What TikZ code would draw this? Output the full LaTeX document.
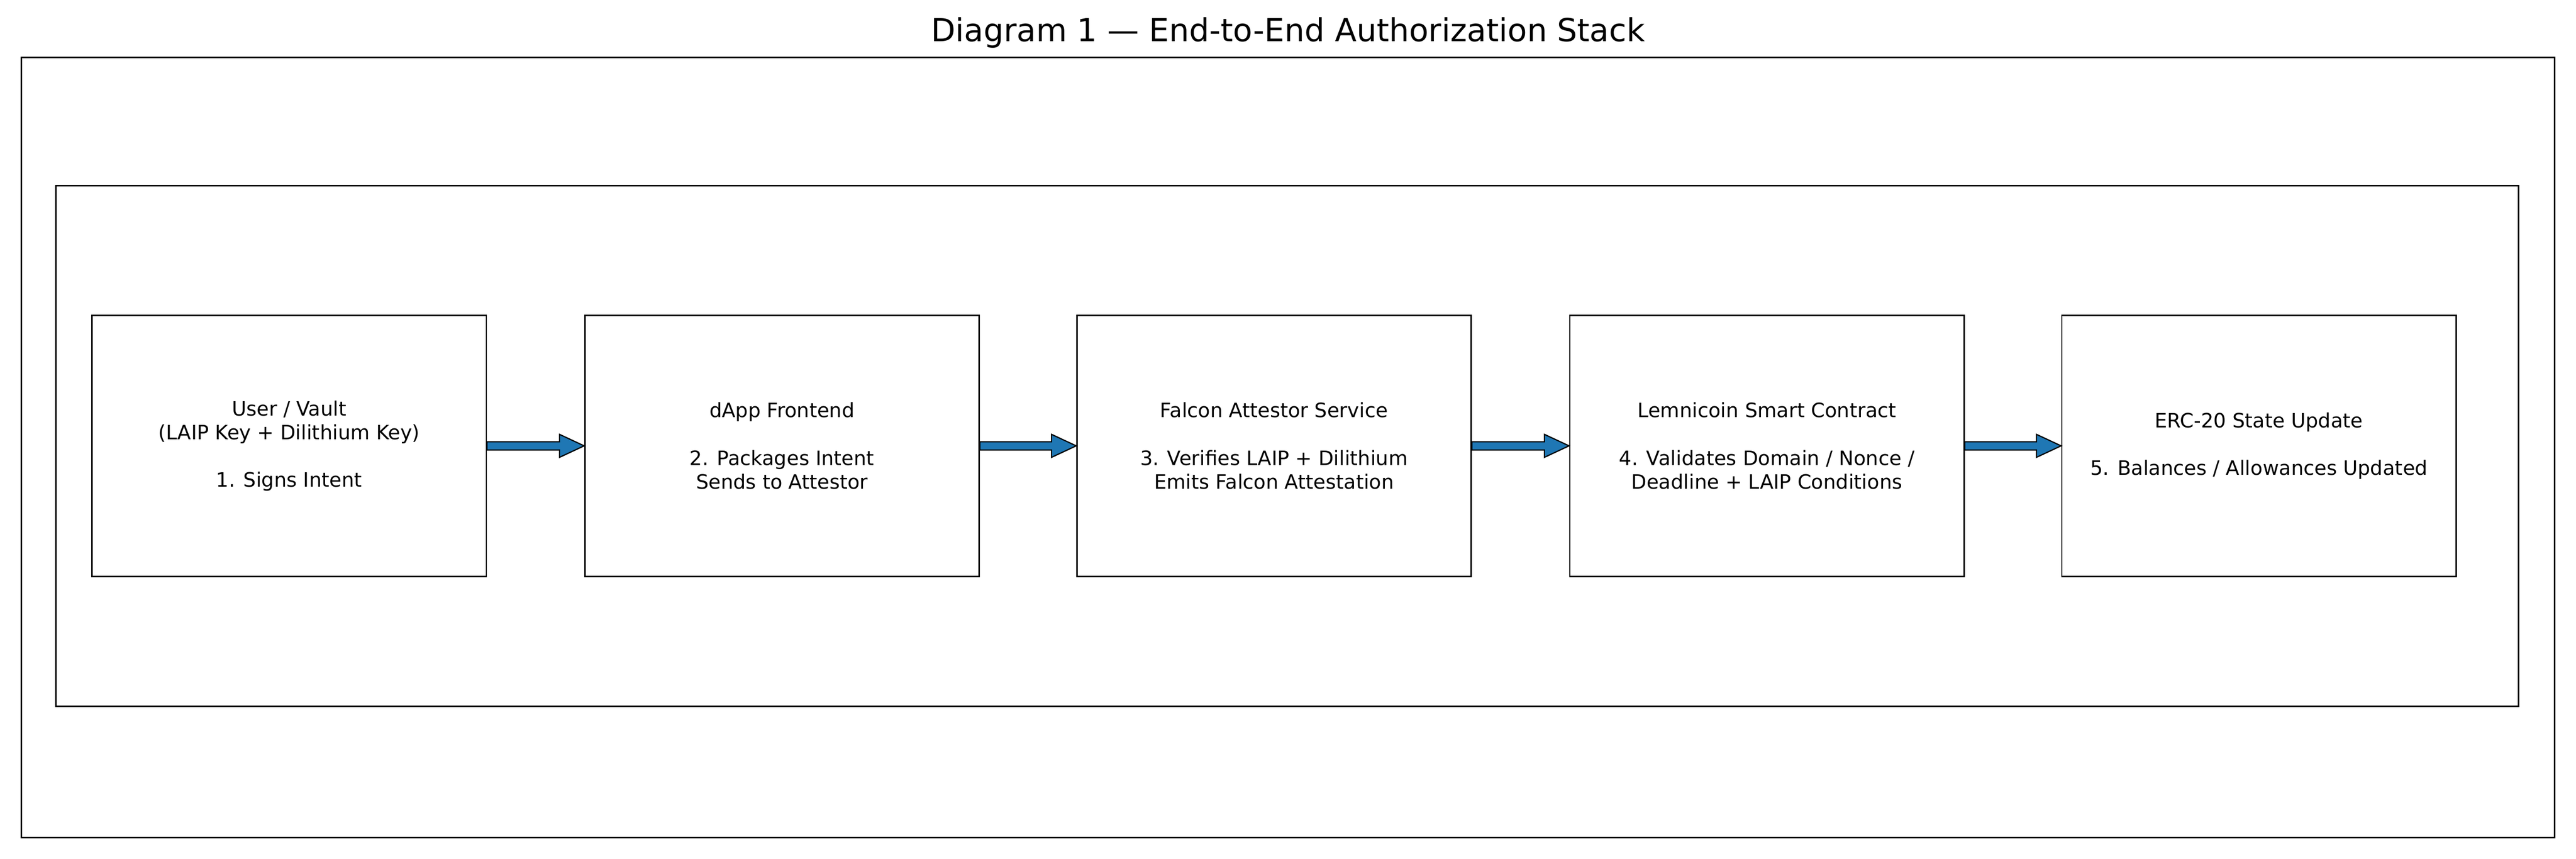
\documentclass[tikz,border=0pt]{standalone}
\usepackage{fontspec}
\setmainfont{DejaVu Sans}
\usetikzlibrary{calc}
\definecolor{mplblue}{HTML}{1F77B4}
\begin{document}
\begin{tikzpicture}[x=0.02916cm,y=-0.02916cm,
  box/.style={draw,line width=0.7pt,minimum width=240*0.02916cm,minimum height=159*0.02916cm,align=center,font=\fontsize{10}{12}\selectfont,inner sep=0pt},
  fat/.style={fill=mplblue,draw=black,line width=0.6pt}]
\useasboundingbox (0,0) rectangle (1568,523);
\node[font=\fontsize{16}{18}\selectfont] (title) at (784,20) {Diagram 1 — End-to-End Authorization Stack};
\draw[line width=0.7pt] (13,35) rectangle (1555,510);
\draw[line width=0.7pt] (34,113) rectangle (1533,430);
\node[box] (n1) at (176,271.5) {User / Vault\\(LAIP Key + Dilithium Key)\\[\baselineskip]1. Signs Intent};
\node[box] (n2) at (476,271.5) {dApp Frontend\\[\baselineskip]2. Packages Intent\\Sends to Attestor};
\node[box] (n3) at (775.5,271.5) {Falcon Attestor Service\\[\baselineskip]3. Verifies LAIP + Dilithium\\Emits Falcon Attestation};
\node[box] (n4) at (1075.5,271.5) {Lemnicoin Smart Contract\\[\baselineskip]4. Validates Domain / Nonce /\\Deadline + LAIP Conditions};
\node[box] (n5) at (1375,271.5) {ERC-20 State Update\\[\baselineskip]5. Balances / Allowances Updated};
\foreach \a/\b in {n1/n2,n2/n3,n3/n4,n4/n5}{
  \draw[fat] ($(\a.east)+(0,-2.5)$) -- ($(\b.west)+(-15,-2.5)$) -- ($(\b.west)+(-15,-7)$) -- (\b.west)
    -- ($(\b.west)+(-15,7)$) -- ($(\b.west)+(-15,2.5)$) -- ($(\a.east)+(0,2.5)$) -- cycle;
}
\end{tikzpicture}
\end{document}
